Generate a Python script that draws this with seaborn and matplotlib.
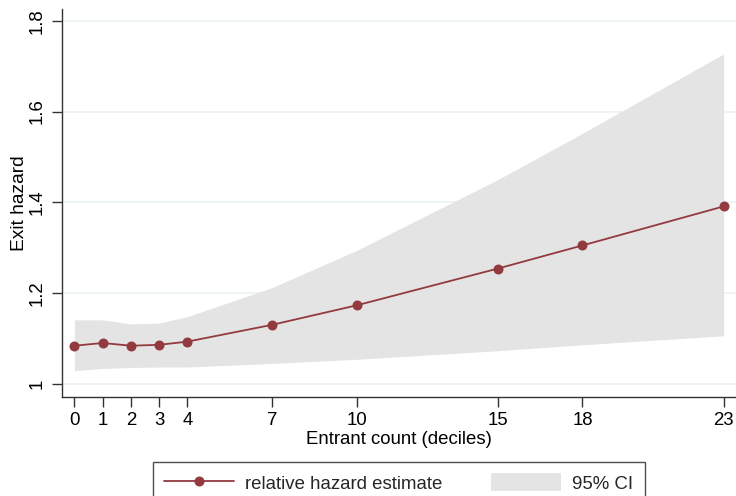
import numpy as np
import pandas as pd
import matplotlib
matplotlib.use("Agg")
import matplotlib.pyplot as plt
import seaborn as sns
from matplotlib.lines import Line2D
from matplotlib.patches import Patch

# Data
deciles = [0, 1, 2, 3, 4, 7, 10, 15, 18, 23]
estimate = [1.084, 1.090, 1.084, 1.086, 1.093, 1.130, 1.173, 1.254, 1.305, 1.391]
ci_lower = [1.029, 1.034, 1.036, 1.037, 1.037, 1.045, 1.054, 1.073, 1.086, 1.106]
ci_upper = [1.141, 1.141, 1.132, 1.134, 1.148, 1.212, 1.294, 1.450, 1.552, 1.727]
x_ticks = [0, 1, 2, 3, 4, 7, 10, 15, 18, 23]
y_ticks = [1.0, 1.2, 1.4, 1.6, 1.8]
y_ticklabels = ["1", "1.2", "1.4", "1.6", "1.8"]

df = pd.DataFrame({"decile": deciles, "estimate": estimate,
                   "lo": ci_lower, "hi": ci_upper})

sns.set_theme(style="white")
plt.rcParams['font.family'] = ['Liberation Sans', 'DejaVu Sans']

red = "#933a3f"
ci_color = "#e4e4e4"
grid_color = "#eaf2f3"
fs = 13.4

fig = plt.figure(figsize=(7.36, 4.96), dpi=100)
ax = fig.add_axes([62/736, 1 - 397/496, 1 - 62/736, (397 - 9)/496])

for yt in y_ticks:
    ax.axhline(yt, color=grid_color, lw=1.2, zorder=0)

ax.fill_between(df["decile"], df["lo"], df["hi"], color=ci_color, lw=0, zorder=1)
sns.lineplot(data=df, x="decile", y="estimate", ax=ax, color=red, lw=1.3,
             marker="o", markersize=7.2, markeredgewidth=0, zorder=3)

ax.set_xlim(-0.44, 23.44)
ax.set_ylim(0.971, 1.826)
ax.set_xticks(x_ticks)
ax.set_xticklabels([str(v) for v in x_ticks])
ax.set_yticks(y_ticks)
ax.set_yticklabels(y_ticklabels, rotation=90, va="center")

for s in ["top", "right"]:
    ax.spines[s].set_visible(False)
for s in ["left", "bottom"]:
    ax.spines[s].set_color("#333333")
    ax.spines[s].set_linewidth(1.0)

ax.tick_params(axis="both", which="major", length=7, width=1.0, color="#333333",
               labelsize=fs, labelcolor="black", direction="out",
               bottom=True, left=True)
ax.tick_params(axis="x", pad=4)
ax.tick_params(axis="y", pad=4.5)

ax.set_xlabel("Entrant count (deciles)", fontsize=fs, color="black", labelpad=1)
ax.set_ylabel("Exit hazard", fontsize=13.8, color="black", labelpad=1)

handles = [
    Line2D([0], [0], color=red, lw=1.3, marker="o", markersize=7.2, markeredgewidth=0),
    Patch(facecolor=ci_color, edgecolor="none"),
]
labels = ["relative hazard estimate", "95% CI"]
leg = fig.legend(handles, labels, loc="upper left",
                 bbox_to_anchor=(152.7/736, 1 - 461.7/496),
                 bbox_transform=fig.transFigure, ncol=2, frameon=True,
                 fancybox=False, fontsize=fs, handlelength=3.75,
                 handleheight=1.12, handletextpad=0.6, columnspacing=2.6,
                 borderpad=0.62, borderaxespad=0)
leg.get_frame().set_edgecolor("#222222")
leg.get_frame().set_linewidth(1.0)
leg.get_frame().set_facecolor("white")

fig.savefig("out.png", dpi=100)
